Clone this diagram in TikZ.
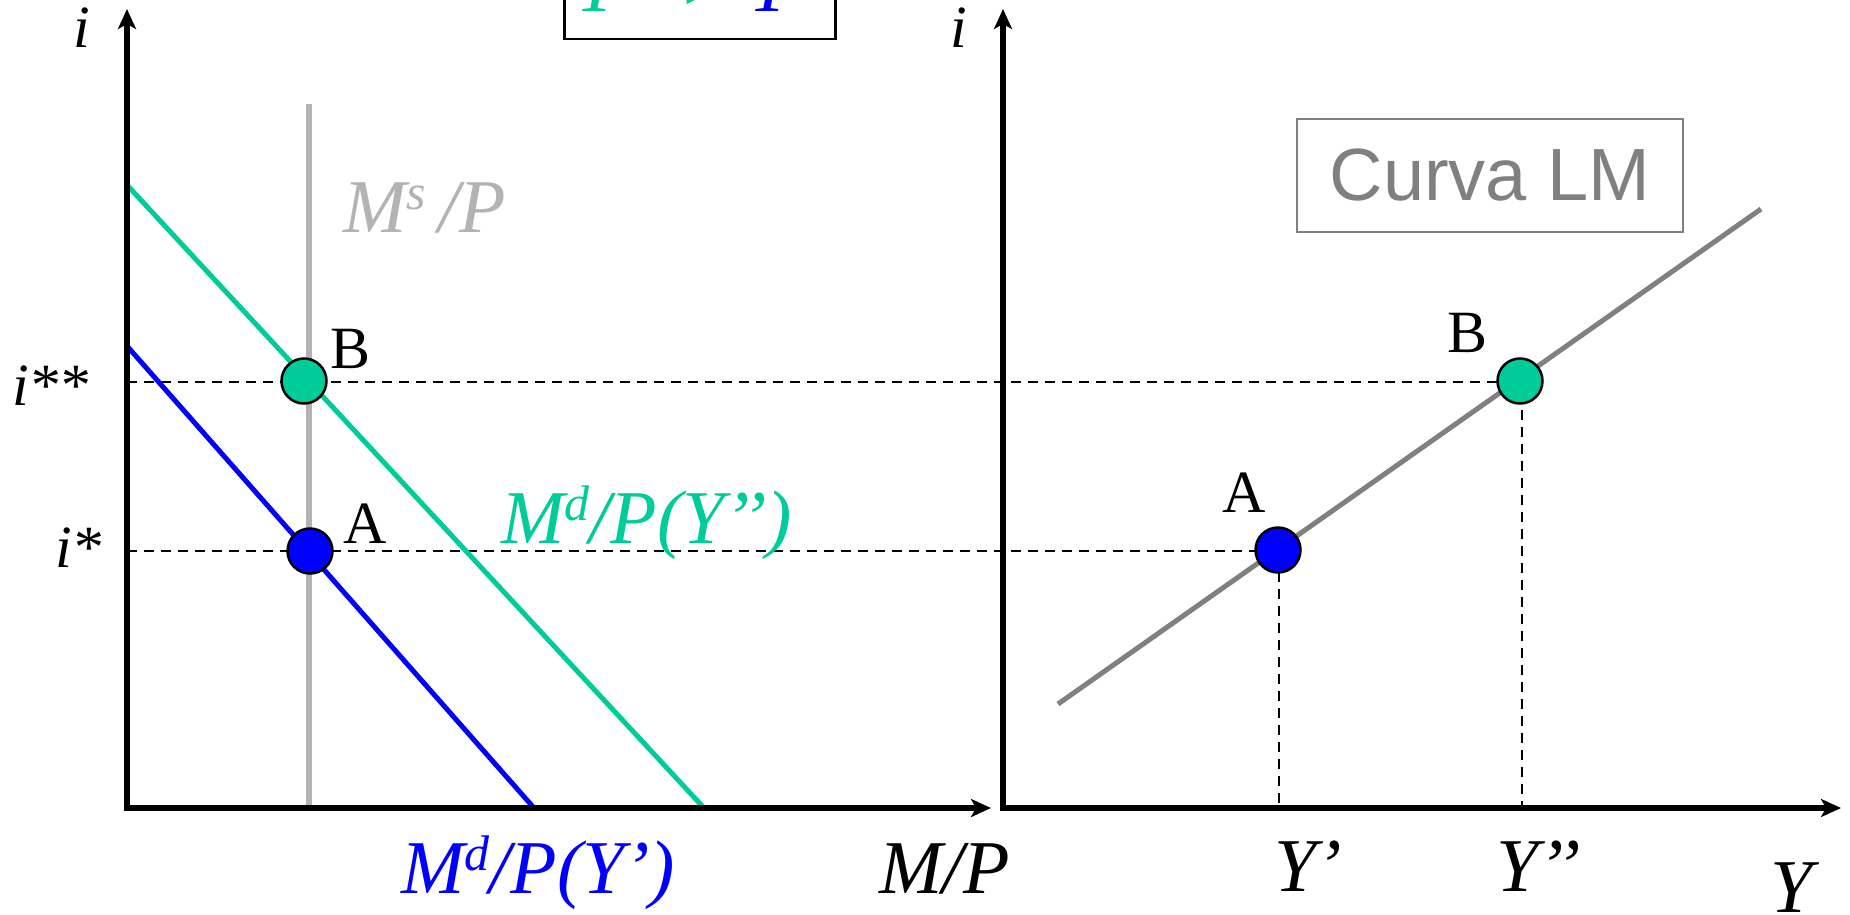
\documentclass[tikz,border=0pt]{standalone}
\usepackage{fontspec}
\setmainfont{Liberation Serif}
\newfontfamily\arialfont{Liberation Sans}
\usetikzlibrary{arrows.meta}
\definecolor{grn}{HTML}{00CC99}
\definecolor{blu}{HTML}{0000FF}
\definecolor{msgray}{HTML}{B3B3B3}
\definecolor{lmgray}{HTML}{808080}
\newcommand{\supr}[1]{\raisebox{0.3em}{\fontsize{50}{50}\selectfont #1}}
\tikzset{
 axisline/.style={line width=5.5pt, {Stealth[length=20pt,width=18pt,inset=5pt]}-{Stealth[length=20pt,width=18pt,inset=5pt]}},
 dashline/.style={line width=2pt, dash pattern=on 10pt off 7pt},
 curveline/.style={line width=5pt},
 dot/.style={circle, draw=black, line width=2.5pt, minimum size=45pt, inner sep=0pt},
 lbl/.style={anchor=base west, inner sep=0pt, font=\fontsize{76}{80}\selectfont\itshape},
 ilbl/.style={anchor=base west, inner sep=0pt, font=\fontsize{60}{64}\selectfont\itshape},
 ptlbl/.style={anchor=base west, inner sep=0pt, font=\fontsize{60}{64}\selectfont},
}
\begin{document}
\begin{tikzpicture}[x=1pt,y=-1pt]
\useasboundingbox (0,0) rectangle (1850,914);
\clip (0,0) rectangle (1850,914);
\fill[white] (0,0) rectangle (1850,914);

% coordinates
\coordinate (T1) at (127,9);
\coordinate (O1) at (127,808);
\coordinate (R1) at (991,808);
\coordinate (T2) at (1003,9);
\coordinate (O2) at (1003,808);
\coordinate (R2) at (1841,808);
\coordinate (msTop) at (309,104);
\coordinate (msBot) at (309,808);
\coordinate (g1) at (127,185);
\coordinate (g2) at (704,808);
\coordinate (b1) at (127,346);
\coordinate (b2) at (534,808);
\coordinate (lm1) at (1058,704);
\coordinate (lm2) at (1761,209);
\coordinate (iss) at (127,382);
\coordinate (is) at (127,551);
\coordinate (yp) at (1279,808);
\coordinate (ypp) at (1522,808);
\coordinate (yppTop) at (1522,410);

% dashed guides
\draw[dashline] (iss) -- (1498,382);
\draw[dashline] (is) -- (1256,551);
\draw[dashline] (1279,572) -- (yp);
\draw[dashline] (yppTop) -- (ypp);

% curves
\draw[curveline, msgray, line width=6pt] (msTop) -- (msBot);
\draw[curveline, grn] (g1) -- (g2);
\draw[curveline, blu] (b1) -- (b2);
\draw[curveline, lmgray] (lm1) -- (lm2);

% axes
\draw[axisline] (T1) -- (O1) -- (R1);
\draw[axisline] (T2) -- (O2) -- (R2);

% points
\node[dot, fill=grn] (Bl) at (304,381) {};
\node[dot, fill=blu] (Al) at (310,551) {};
\node[dot, fill=blu] (Ar) at (1278,550) {};
\node[dot, fill=grn] (Br) at (1520,381) {};

% point labels
\node[ptlbl] (lBl) at (330,368) {B};
\node[ptlbl] (lAl) at (343,543) {A};
\node[ptlbl] (lBr) at (1447,352) {B};
\node[ptlbl] (lAr) at (1222,512) {A};

% axis labels
\node[ilbl] (il) at (73,47) {i};
\node[ilbl] (ir) at (950,47) {i};
\node[ilbl] (liss) at (12,405) {i**};
\node[ilbl] (lis) at (55,567) {i*};
\node[lbl] (lMP) at (879,893) {M/P};
\node[lbl] (lYp) at (1274,891) {Y’};
\node[lbl] (lYpp) at (1496,891) {Y’’};
\node[lbl] (lY) at (1770,912) {Y};

% curve labels
\node[lbl, text=msgray] (lMs) at (343,232) {M\supr{s}\,/P};
\node[lbl, text=grn] (lMdg) at (501,543) {M\supr{d}/P(Y’’)};
\node[lbl, text=blu] (lMdb) at (401,893) {M\supr{d}/P(Y’)};

% Curva LM box
\node[draw=lmgray, line width=2pt, text=lmgray, font=\arialfont\fontsize{74}{78}\selectfont,
 minimum width=386pt, minimum height=113pt, inner sep=0pt] (lmbox) at (1490,175.5) {Curva LM};

% top box (cut off)
\node[draw=black, fill=white, line width=2.5pt, minimum width=271pt, minimum height=140pt,
 anchor=south west, inner sep=0pt] (topbox) at (563,40) {};
\node[lbl] (toptext) at (575,11) {\color{grn}Y’’ >\ \color{blu}Y’};
\end{tikzpicture}
\end{document}
